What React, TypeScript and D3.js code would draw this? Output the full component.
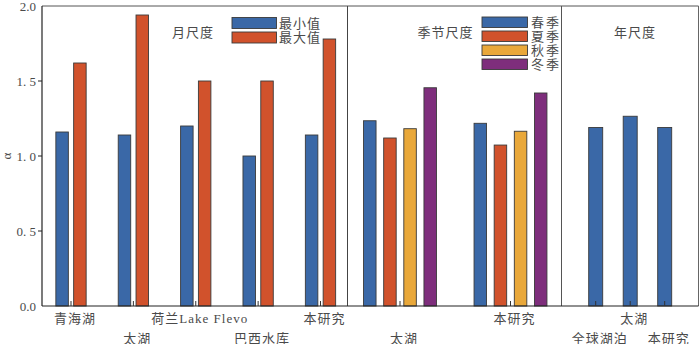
import React from 'react';
import * as d3 from 'd3';

const monthCats = ['青海湖', '太湖', '荷兰Lake Flevo', '巴西水库', '本研究'];
const monthRows = [0, 1, 0, 1, 0];
const monthMin = [1.16, 1.14, 1.2, 1.0, 1.14];
const monthMax = [1.62, 1.94, 1.5, 1.5, 1.78];
const monthSeries = ['最小值', '最大值'];

const seasonCats = ['太湖', '本研究'];
const seasonRows = [1, 0];
const seasons = ['春季', '夏季', '秋季', '冬季'];
const spring = [1.235, 1.218];
const summer = [1.12, 1.073];
const autumn = [1.182, 1.165];
const winter = [1.455, 1.42];

const yearCats = ['全球湖泊', '太湖', '本研究'];
const yearRows = [1, 0, 1];
const yearVals = [1.19, 1.265, 1.19];

const yTicks = [0, 0.5, 1, 1.5, 2];
const yTickLabels = ['0.0', '0. 5', '1. 0', '1. 5', '2.0'];

const panelTitles = ['月尺度', '季节尺度', '年尺度'];

const BLUE = '#3a68a7';
const RED = '#d1522c';
const ORANGE = '#e9a83a';
const PURPLE = '#7e2e7c';
const STROKE = '#3a3a3a';
const TEXT = '#4a4a4a';
const FONT = '"Liberation Serif", "Noto Sans CJK SC", serif';

export default function App() {
  const left = 42, right = 698.5, top = 6, bottom = 306;
  const div1 = 347.5, div2 = 561.5;
  const y = d3.scaleLinear().domain([0, 2]).range([bottom, top]);

  const xMonth = d3.scalePoint<string>().domain(monthCats).range([71, 320.5]);
  const xMonthInner = d3.scalePoint<string>().domain(monthSeries).range([-8.9, 8.9]);
  const xSeason = d3.scalePoint<string>().domain(seasonCats).range([400, 510.5]);
  const xSeasonInner = d3.scalePoint<string>().domain(seasons).range([-30.2, 30.2]);
  const xYear = d3.scalePoint<string>().domain(yearCats).range([595.7, 664.7]);

  const monthColors = [BLUE, RED];
  const seasonColors = [BLUE, RED, ORANGE, PURPLE];
  const seasonData = [spring, summer, autumn, winter];
  const bw = 12.5;

  const bars: React.ReactNode[] = [];
  monthCats.forEach((c, i) => {
    [monthMin[i], monthMax[i]].forEach((v, j) => {
      const cx = xMonth(c)! + xMonthInner(monthSeries[j])!;
      bars.push(
        <rect key={`m${i}${j}`} x={cx - bw / 2} y={y(v)} width={bw} height={y(0) - y(v)}
          fill={monthColors[j]} stroke={STROKE} strokeWidth={0.9} />
      );
    });
  });
  seasonCats.forEach((c, i) => {
    seasons.forEach((s, j) => {
      const v = seasonData[j][i];
      const cx = xSeason(c)! + xSeasonInner(s)!;
      bars.push(
        <rect key={`s${i}${j}`} x={cx - bw / 2} y={y(v)} width={bw} height={y(0) - y(v)}
          fill={seasonColors[j]} stroke={STROKE} strokeWidth={0.9} />
      );
    });
  });
  yearCats.forEach((c, i) => {
    const v = yearVals[i];
    const cx = xYear(c)!;
    bars.push(
      <rect key={`y${i}`} x={cx - 7} y={y(v)} width={14} height={y(0) - y(v)}
        fill={BLUE} stroke={STROKE} strokeWidth={0.9} />
    );
  });

  const xTicks: number[] = [
    ...monthCats.map((c) => xMonth(c)!),
    ...seasonCats.map((c) => xSeason(c)!),
    ...yearCats.map((c) => xYear(c)!),
  ];

  const labels: { text: string; x: number; row: number }[] = [
    ...monthCats.map((c, i) => ({ text: c, x: xMonth(c)!, row: monthRows[i] })),
    ...seasonCats.map((c, i) => ({ text: c, x: xSeason(c)!, row: seasonRows[i] })),
    ...yearCats.map((c, i) => ({ text: c, x: xYear(c)!, row: yearRows[i] })),
  ];

  return (
    <svg width={700} height={344} style={{ position: 'absolute', left: 0, top: 0, background: '#fff' }}>
      {bars}
      {/* frame */}
      <line x1={left} x2={right} y1={top} y2={top} stroke="#555" strokeWidth={1} />
      <line x1={right} x2={right} y1={top} y2={bottom} stroke="#666" strokeWidth={1} />
      <line x1={div1} x2={div1} y1={top} y2={bottom} stroke="#444" strokeWidth={1} />
      <line x1={div2} x2={div2} y1={top} y2={bottom} stroke="#555" strokeWidth={1} />
      <line x1={left} x2={left} y1={top} y2={bottom} stroke="#222" strokeWidth={1.2} />
      <line x1={left} x2={right} y1={bottom} y2={bottom} stroke="#222" strokeWidth={1.2} />
      {/* y ticks */}
      {yTicks.map((t, i) => (
        <g key={`yt${i}`}>
          {t > 0 && t < 2 && <line x1={left - 4} x2={left} y1={y(t)} y2={y(t)} stroke="#222" strokeWidth={1} />}
          <text x={36} y={y(t) + 4.5} textAnchor="end" fontSize={13} fill={TEXT} fontFamily={FONT}>
            {yTickLabels[i]}
          </text>
        </g>
      ))}
      {/* x ticks */}
      {xTicks.map((x, i) => (
        <line key={`xt${i}`} x1={x} x2={x} y1={bottom} y2={bottom - 5} stroke="#333" strokeWidth={1} />
      ))}
      {/* x labels */}
      {labels.map((l, i) => (
        <text key={`xl${i}`} x={l.x + 4} y={l.row === 0 ? 323 : 342.5} textAnchor="middle"
          fontSize={13} fill={TEXT} fontFamily={FONT} letterSpacing={1}>
          {l.text}
        </text>
      ))}
      {/* y axis label */}
      <text transform="translate(11,156) rotate(-90)" textAnchor="middle" fontSize={13} fill={TEXT} fontFamily={FONT}>
        α
      </text>
      {/* panel titles */}
      <text x={193} y={37} textAnchor="middle" fontSize={13} fill={TEXT} fontFamily={FONT} letterSpacing={1}>{panelTitles[0]}</text>
      <text x={445.5} y={37} textAnchor="middle" fontSize={13} fill={TEXT} fontFamily={FONT} letterSpacing={1}>{panelTitles[1]}</text>
      <text x={635} y={37} textAnchor="middle" fontSize={13} fill={TEXT} fontFamily={FONT} letterSpacing={1}>{panelTitles[2]}</text>
      {/* legend month */}
      {monthSeries.map((s, i) => (
        <g key={`lm${i}`}>
          <rect x={232} y={17.5 + i * 14.5} width={44.5} height={11} fill={monthColors[i]} stroke={STROKE} strokeWidth={0.9} />
          <text x={279} y={27.5 + i * 14.5} fontSize={13} fill={TEXT} fontFamily={FONT} letterSpacing={1}>{s}</text>
        </g>
      ))}
      {/* legend season */}
      {seasons.map((s, i) => (
        <g key={`ls${i}`}>
          <rect x={482} y={17 + i * 14} width={45.5} height={10.5} fill={seasonColors[i]} stroke={STROKE} strokeWidth={0.9} />
          <text x={531} y={26.5 + i * 14} fontSize={13} fill={TEXT} fontFamily={FONT} letterSpacing={2}>{s}</text>
        </g>
      ))}
    </svg>
  );
}
